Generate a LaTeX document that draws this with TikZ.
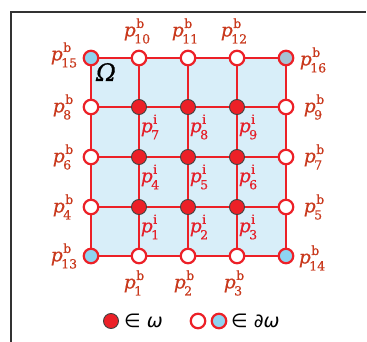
\documentclass[tikz,border=0pt]{standalone}
\usepackage{fontspec}
\newfontfamily\lblfont[FakeBold=0.6]{DejaVu Serif}
\newfontfamily\omfont[FakeBold=0.8]{DejaVu Serif}
\newfontfamily\legfont{DejaVu Sans}
\definecolor{gridred}{HTML}{EC2027}
\definecolor{lblb}{HTML}{C93A1E}
\definecolor{lbli}{HTML}{E5202A}
\definecolor{domfill}{HTML}{D8EEF9}
\definecolor{cornblue}{HTML}{8ED4F1}
\definecolor{corngray}{HTML}{A6C3D4}
\definecolor{framecol}{HTML}{333333}
\newcommand\plab[2]{{\fontsize{18.5}{18}\selectfont\itshape p}\kern-1.5pt{\fontsize{12.5}{12}\selectfont\rlap{\kern2pt\raisebox{8.5pt}{#1}}\raisebox{-7pt}{#2}}}
\tikzset{
  gridline/.style={draw=gridred,line width=2.4pt},
  bnode/.style={circle,draw=gridred,line width=2.2pt,fill=white,minimum size=14.5pt,inner sep=0pt},
  inode/.style={circle,draw=black!75,line width=0.9pt,fill=gridred,minimum size=15pt,inner sep=0pt},
  cnode/.style={bnode,fill=cornblue},
  blabel/.style={text=lblb,font=\lblfont,inner sep=0pt},
  ilabel/.style={text=lbli,font=\lblfont,inner sep=0pt},
  legtext/.style={text=black,font=\legfont\fontsize{19}{20}\selectfont,inner sep=0pt,anchor=west}
}
\begin{document}
\begin{tikzpicture}[x=1pt,y=-1pt]
\useasboundingbox (0,0) rectangle (367,342);
% frame (top and left edges visible)
\coordinate (f1) at (11,342);
\coordinate (f2) at (11,12);
\coordinate (f3) at (366,12);
\draw[framecol,line width=1.6pt] (f1) -- (f2) -- (f3);
% domain
\fill[domfill] (91,58) rectangle (286,256);
% node positions
\foreach \i/\x in {0/91,1/139,2/188,3/237,4/286}{
  \foreach \j/\y in {0/58,1/107,2/157,3/207,4/256}{
    \coordinate (c-\i-\j) at (\x,\y);
  }
}
% grid lines
\foreach \j in {0,...,4}{ \draw[gridline] (c-0-\j) -- (c-4-\j); }
\foreach \i in {0,...,4}{ \draw[gridline] (c-\i-0) -- (c-\i-4); }
% boundary nodes
\foreach \i/\j in {1/0,2/0,3/0,0/1,0/2,0/3,4/1,4/2,4/3,1/4,2/4,3/4}{
  \node[bnode] (n-\i-\j) at (c-\i-\j) {};
}
\node[cnode] (n-0-0) at (c-0-0) {};
\node[bnode,fill=corngray] (n-4-0) at (c-4-0) {};
\node[cnode] (n-0-4) at (c-0-4) {};
\node[cnode] (n-4-4) at (c-4-4) {};
% interior nodes
\foreach \i in {1,2,3}{ \foreach \j in {1,2,3}{ \node[inode] (n-\i-\j) at (c-\i-\j) {}; } }
% Omega
\node[font=\omfont\fontsize{24}{24}\selectfont\itshape,inner sep=0pt] (om) at (106,72) {Ω};
% boundary labels
\node[blabel] (b15) at (64,55) {\plab{b}{15}};
\node[blabel] (b10) at (137,31) {\plab{b}{10}};
\node[blabel] (b11) at (185,31) {\plab{b}{11}};
\node[blabel] (b12) at (234,31) {\plab{b}{12}};
\node[blabel] (b16) at (313,60) {\plab{b}{16}};
\node[blabel] (b8) at (62,107) {\plab{b}{8}};
\node[blabel] (b9) at (313,107) {\plab{b}{9}};
\node[blabel] (b6) at (62,157) {\plab{b}{6}};
\node[blabel] (b7) at (313,157) {\plab{b}{7}};
\node[blabel] (b4) at (62,207) {\plab{b}{4}};
\node[blabel] (b5) at (313,207) {\plab{b}{5}};
\node[blabel] (b13) at (64,256) {\plab{b}{13}};
\node[blabel] (b14) at (312,258) {\plab{b}{14}};
\node[blabel] (b1) at (133,283) {\plab{b}{1}};
\node[blabel] (b2) at (183,283) {\plab{b}{2}};
\node[blabel] (b3) at (233,283) {\plab{b}{3}};
% interior labels
\foreach \i/\j/\k in {1/1/7,2/1/8,3/1/9,1/2/4,2/2/5,3/2/6,1/3/1,2/3/2,3/3/3}{
  \node[ilabel] (l\k) at ([xshift=11pt,yshift=-20pt]c-\i-\j) {\plab{i}{\k}};
}
% legend
\node[inode] (lg1) at (111,321) {};
\node[legtext] (lt1) at (124,321) {∈ {\itshape ω}};
\node[bnode] (lg2) at (198,321) {};
\node[cnode] (lg3) at (219,321) {};
\node[legtext] (lt2) at (231,321) {∈ {\itshape ∂ω}};
\end{tikzpicture}
\end{document}
